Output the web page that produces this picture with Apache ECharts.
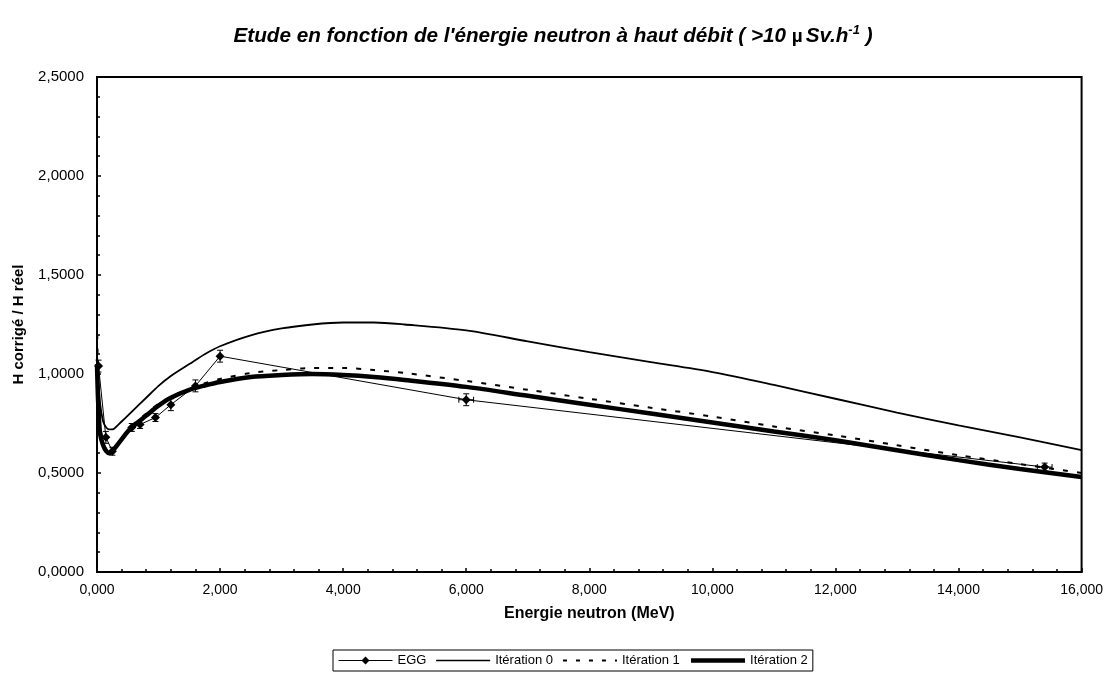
<!DOCTYPE html>
<html>
<head>
<meta charset="utf-8">
<script src="https://cdn.jsdelivr.net/npm/echarts@6/dist/echarts.min.js"></script>
<style>
  html, body { margin: 0; padding: 0; background: #fff; }
  #chart { width: 1106px; height: 673px; }
</style>
</head>
<body>
<div id="chart"></div>
<script>
// Neutron energy (MeV) sampling of the correction curves
const energies = [0, 0.02, 0.05, 0.1, 0.15, 0.2, 0.25, 0.3, 0.4, 0.5, 0.6, 0.8, 1.0, 1.2, 1.5, 1.75, 2.0, 2.5, 3.0, 3.5, 4.0, 4.5, 5.0, 6.0, 7.0, 8.0, 9.0, 10.0, 11.0, 12.0, 13.0, 14.0, 15.0, 16.0];
const iter0 = [1.10, 0.98, 0.85, 0.76, 0.73, 0.72, 0.72, 0.73, 0.76, 0.79, 0.82, 0.88, 0.94, 0.99, 1.05, 1.10, 1.14, 1.195, 1.23, 1.25, 1.26, 1.26, 1.25, 1.22, 1.165, 1.11, 1.06, 1.01, 0.945, 0.875, 0.805, 0.74, 0.68, 0.616];
const iter1 = [1.27, 0.95, 0.75, 0.66, 0.62, 0.61, 0.615, 0.635, 0.675, 0.715, 0.75, 0.80, 0.85, 0.885, 0.925, 0.953, 0.975, 1.005, 1.02, 1.03, 1.03, 1.02, 1.005, 0.965, 0.92, 0.875, 0.83, 0.785, 0.735, 0.69, 0.64, 0.59, 0.545, 0.50];
const iter2 = [1.05, 0.85, 0.70, 0.64, 0.61, 0.60, 0.61, 0.63, 0.67, 0.71, 0.74, 0.79, 0.84, 0.88, 0.92, 0.942, 0.96, 0.985, 0.995, 1.0, 0.995, 0.985, 0.97, 0.935, 0.89, 0.845, 0.80, 0.755, 0.71, 0.665, 0.615, 0.565, 0.52, 0.48];

// EGG measurements with uncertainties
const eggEnergy = [0.025, 0.144, 0.25, 0.565, 0.7, 0.95, 1.2, 1.6, 2.0, 6.0, 15.4];
const eggValue = [1.04, 0.68, 0.61, 0.73, 0.745, 0.78, 0.845, 0.94, 1.09, 0.87, 0.53];
const eggErrY = [0.03, 0.03, 0.02, 0.02, 0.02, 0.02, 0.03, 0.03, 0.03, 0.03, 0.02];
const eggErrX = [0, 0, 0, 0, 0, 0, 0, 0, 0, 0.12, 0.12];

// Tick labels
const yTicks = [0, 0.5, 1.0, 1.5, 2.0, 2.5];
const xTicks = [0, 2, 4, 6, 8, 10, 12, 14, 16];

const pairs = (xs, ys) => xs.map((x, i) => [x, ys[i]]);
const FONT = 'Liberation Sans, Arial, sans-serif';
const noMarker = { opacity: 0 };

const chart = echarts.init(document.getElementById('chart'));

chart.setOption({
  animation: false,
  backgroundColor: '#ffffff',
  title: {
    text: '{t|Etude en fonction de l\'énergie neutron à haut débit ( >10 }{mu|µ}{t|Sv.h}{sup|-1}{t| )}',
    left: 'center',
    top: 19,
    textStyle: {
      rich: {
        t: { fontFamily: FONT, fontSize: 20.7, fontWeight: 'bold', fontStyle: 'italic', color: '#000' },
        mu: { fontFamily: FONT, fontSize: 19, fontStyle: 'normal', color: '#000', padding: [0, 3, 0, 0] },
        sup: { fontFamily: FONT, fontSize: 13, fontWeight: 'bold', fontStyle: 'italic', color: '#000', padding: [0, 0, 12, 0] }
      }
    }
  },
  grid: {
    left: 97, right: 24, top: 77, bottom: 101,
    show: true, borderColor: '#000', borderWidth: 2, backgroundColor: 'transparent'
  },
  legend: {
    data: [
      { name: 'EGG', lineStyle: { width: 1 } },
      { name: 'Itération 0', itemStyle: noMarker, lineStyle: { width: 1.5 } },
      { name: 'Itération 1', itemStyle: noMarker, lineStyle: { width: 2, type: [4, 9] } },
      { name: 'Itération 2', itemStyle: noMarker, lineStyle: { width: 4.5 } }
    ],
    left: 333, top: 650,
    itemWidth: 54, itemHeight: 10, itemGap: 9,
    padding: [4, 5, 4, 5],
    borderColor: '#000', borderWidth: 1,
    textStyle: { fontFamily: FONT, fontSize: 13, color: '#000' }
  },
  xAxis: {
    type: 'value',
    min: 0, max: 16, interval: 2,
    name: 'Energie neutron (MeV)',
    nameLocation: 'middle',
    nameGap: 34,
    nameTextStyle: { fontFamily: FONT, fontSize: 16, fontWeight: 'bold', color: '#000' },
    axisLine: { show: true, lineStyle: { color: '#000', width: 2 } },
    axisTick: { show: true, inside: true, length: 4, lineStyle: { color: '#000', width: 1.5 } },
    minorTick: { show: true, splitNumber: 5, length: 3, lineStyle: { color: '#000', width: 1.5 } },
    splitLine: { show: false },
    axisLabel: {
      fontFamily: FONT, fontSize: 14, color: '#000', margin: 11,
      formatter: v => xTicks.includes(v) ? v.toFixed(3).replace('.', ',') : ''
    }
  },
  yAxis: {
    type: 'value',
    min: 0, max: 2.5, interval: 0.5,
    name: 'H corrigé / H réel',
    nameLocation: 'middle',
    nameGap: 71,
    nameTextStyle: { fontFamily: FONT, fontSize: 15, fontWeight: 'bold', color: '#000' },
    axisLine: { show: true, lineStyle: { color: '#000', width: 2 } },
    axisTick: { show: true, inside: true, length: 4, lineStyle: { color: '#000', width: 1.5 } },
    minorTick: { show: true, splitNumber: 5, length: 3, lineStyle: { color: '#000', width: 1.5 } },
    splitLine: { show: false },
    axisLabel: {
      fontFamily: FONT, fontSize: 15, color: '#000', margin: 13,
      formatter: v => yTicks.includes(v) ? v.toFixed(4).replace('.', ',') : ''
    }
  },
  series: [
    {
      name: 'Itération 0',
      type: 'line',
      data: pairs(energies, iter0),
      smooth: 0.3,
      showSymbol: false,
      symbol: 'none',
      lineStyle: { color: '#000', width: 1.8 },
      itemStyle: { color: '#000' },
      z: 3
    },
    {
      name: 'Itération 1',
      type: 'line',
      data: pairs(energies, iter1),
      smooth: 0.3,
      showSymbol: false,
      symbol: 'none',
      lineStyle: { color: '#000', width: 2, type: [5, 9] },
      itemStyle: { color: '#000' },
      z: 3
    },
    {
      name: 'Itération 2',
      type: 'line',
      data: pairs(energies, iter2),
      smooth: 0.3,
      showSymbol: false,
      symbol: 'none',
      lineStyle: { color: '#000', width: 4.5 },
      itemStyle: { color: '#000' },
      z: 3
    },
    {
      name: 'EGG',
      type: 'line',
      data: pairs(eggEnergy, eggValue),
      symbol: 'diamond',
      symbolSize: 9,
      lineStyle: { color: '#000', width: 1 },
      itemStyle: { color: '#000' },
      z: 5
    },
    {
      name: 'EGG erreurs',
      type: 'custom',
      data: eggEnergy.map((x, i) => [x, eggValue[i], eggErrX[i], eggErrY[i]]),
      renderItem: (params, api) => {
        const x = api.value(0), y = api.value(1), ex = api.value(2), ey = api.value(3);
        const top = api.coord([x, y + ey]);
        const bot = api.coord([x, y - ey]);
        const children = [
          { type: 'line', shape: { x1: top[0], y1: top[1], x2: bot[0], y2: bot[1] }, style: { stroke: '#000', lineWidth: 1 } },
          { type: 'line', shape: { x1: top[0] - 3, y1: top[1], x2: top[0] + 3, y2: top[1] }, style: { stroke: '#000', lineWidth: 1 } },
          { type: 'line', shape: { x1: bot[0] - 3, y1: bot[1], x2: bot[0] + 3, y2: bot[1] }, style: { stroke: '#000', lineWidth: 1 } }
        ];
        if (ex > 0) {
          const l = api.coord([x - ex, y]);
          const r = api.coord([x + ex, y]);
          children.push(
            { type: 'line', shape: { x1: l[0], y1: l[1], x2: r[0], y2: r[1] }, style: { stroke: '#000', lineWidth: 1 } },
            { type: 'line', shape: { x1: l[0], y1: l[1] - 3, x2: l[0], y2: l[1] + 3 }, style: { stroke: '#000', lineWidth: 1 } },
            { type: 'line', shape: { x1: r[0], y1: r[1] - 3, x2: r[0], y2: r[1] + 3 }, style: { stroke: '#000', lineWidth: 1 } }
          );
        }
        return { type: 'group', children };
      },
      z: 4
    }
  ]
});
</script>
</body>
</html>
